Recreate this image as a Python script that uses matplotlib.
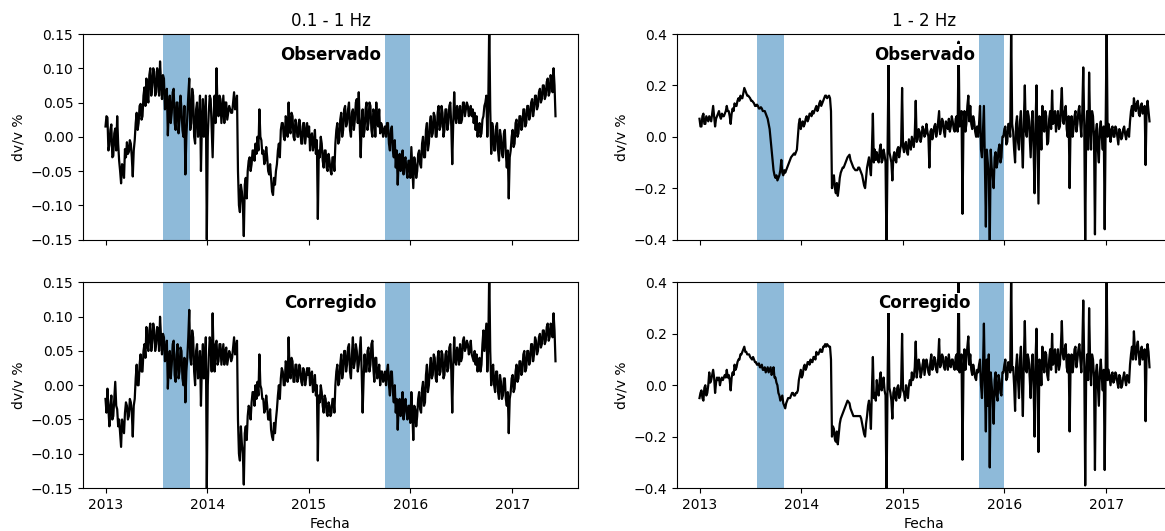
import numpy as np
import matplotlib
matplotlib.use("Agg")
import matplotlib.pyplot as plt
import matplotlib.dates as mdates

# dv/v samples (%): "_a" at the start of each week from 2013-01-01,
# "_b" half a week later
start = np.datetime64("2013-01-01T00")

obs_01_1_a = [
    0.015, 0.028, -0.012, 0.018, -0.028, 0.012, 0.03, -0.035, -0.068, -0.045, -0.018, -0.008, -0.022,
    -0.01, -0.058, -0.005, 0.035, 0.02, 0.048, 0.03, 0.072, 0.085, 0.05, 0.1, 0.075, 0.095,
    0.065, 0.09, 0.11, 0.055, 0.085, 0.045, 0.002, 0.06, 0.035, 0.07, 0.01, 0.05, 0.025,
    0.04, 0.0, -0.055, 0.03, 0.085, 0.02, 0.06, -0.01, 0.05, 0.02, -0.05, 0.055, 0.03,
    -0.15, 0.035, 0.055, -0.03, 0.06, 0.1, 0.03, 0.055, 0.04, 0.02, 0.05, 0.035, 0.04,
    0.035, 0.065, 0.045, -0.05, -0.11, -0.08, -0.145, -0.06, -0.05, -0.03, -0.04, -0.02, -0.01,
    0.0, 0.04, -0.005, -0.02, -0.035, -0.03, -0.055, -0.06, -0.085, -0.07, -0.04, -0.01, 0.01,
    0.02, -0.005, 0.025, 0.05, 0.005, 0.03, -0.005, 0.02, 0.0, 0.015, -0.01, 0.02, 0.005,
    0.0, -0.02, 0.005, -0.01, -0.025, -0.12, -0.03, -0.01, -0.045, -0.02, -0.05, -0.035, -0.055,
    -0.03, -0.01, 0.02, -0.005, 0.035, 0.01, 0.045, 0.02, 0.05, 0.0, 0.04, 0.025, 0.055,
    0.065, -0.03, 0.04, 0.01, 0.05, 0.02, 0.045, 0.0, 0.035, 0.05, 0.015, 0.005, 0.015,
    0.01, 0.0, 0.02, -0.02, 0.015, -0.03, -0.045, -0.07, -0.025, -0.04, -0.055, -0.03, -0.06,
    -0.035, -0.015, -0.075, -0.04, -0.05, -0.02, -0.045, 0.0, -0.03, 0.02, -0.01, 0.03, 0.005,
    0.03, 0.0, 0.045, 0.015, 0.035, 0.01, 0.04, 0.02, 0.05, -0.04, 0.065, 0.02, 0.035,
    0.045, 0.025, 0.05, 0.04, 0.045, 0.035, 0.03, 0.02, 0.01, 0.0, 0.02, 0.005, 0.03,
    0.05, 0.0, 0.17, -0.025, 0.01, -0.02, 0.02, -0.035, 0.0, -0.03, 0.01, -0.045, -0.09,
    -0.02, 0.01, -0.01, 0.025, 0.005, 0.03, 0.015, 0.04, 0.02, 0.045, 0.03, 0.055, 0.04,
    0.06, 0.045, 0.07, 0.055, 0.075, 0.06, 0.085, 0.065, 0.08, 0.1, 0.03,
]
obs_01_1_b = [
    0.03, -0.02, 0.01, -0.03, 0.005, -0.02, -0.01, -0.05, -0.04, -0.06, -0.03, -0.025, -0.005,
    -0.03, -0.02, 0.02, 0.01, 0.045, 0.025, 0.06, 0.045, 0.06, 0.09, 0.06, 0.1, 0.06,
    0.1, 0.06, 0.08, 0.09, 0.04, 0.07, 0.04, 0.02, 0.065, 0.02, 0.05, 0.005, 0.06,
    0.01, 0.045, 0.0, 0.06, 0.01, 0.07, 0.0, 0.04, 0.0, 0.06, 0.02, 0.0, 0.06,
    0.0, 0.06, 0.01, 0.03, 0.02, 0.04, 0.06, 0.02, 0.06, 0.05, 0.025, 0.045, 0.035,
    0.05, 0.04, 0.06, -0.1, -0.07, -0.1, -0.07, -0.09, -0.035, -0.05, -0.02, -0.035, -0.025,
    -0.02, 0.0, -0.025, -0.04, -0.015, -0.05, -0.04, -0.08, -0.06, -0.05, -0.02, -0.03, 0.02,
    0.0, 0.03, 0.0, 0.01, 0.035, 0.0, 0.025, 0.0, 0.025, -0.01, 0.02, -0.01, 0.02,
    0.015, 0.0, -0.02, 0.01, -0.005, -0.02, 0.0, -0.035, -0.02, -0.045, -0.025, -0.05, -0.03,
    -0.05, 0.01, -0.01, 0.025, 0.0, 0.04, 0.015, 0.04, 0.01, 0.035, 0.01, 0.05, 0.02,
    0.02, 0.02, 0.0, 0.04, 0.01, 0.05, 0.01, 0.04, 0.0, 0.02, 0.04, 0.02, 0.0,
    0.015, 0.02, -0.01, 0.01, -0.02, -0.005, -0.02, -0.035, -0.05, -0.02, -0.035, -0.05, -0.035,
    -0.06, -0.045, -0.03, -0.06, -0.025, -0.04, -0.01, -0.03, 0.01, -0.02, 0.02, 0.0, 0.035,
    0.0, 0.035, 0.01, 0.045, 0.0, 0.04, 0.01, 0.045, 0.015, 0.02, 0.03, 0.045, 0.02,
    0.02, 0.05, 0.03, 0.05, 0.03, 0.045, 0.04, 0.035, 0.03, 0.015, 0.0, 0.025, 0.045,
    0.06, 0.05, 0.04, 0.02, -0.02, 0.015, -0.02, 0.01, -0.025, 0.005, -0.025, -0.02, -0.03,
    0.0, -0.015, 0.02, 0.0, 0.03, 0.01, 0.04, 0.015, 0.045, 0.025, 0.05, 0.03, 0.06,
    0.04, 0.065, 0.05, 0.075, 0.055, 0.08, 0.06, 0.09, 0.065, 0.075,
]

cor_01_1_a = [
    -0.02, -0.005, -0.06, -0.015, -0.045, 0.005, -0.035, -0.05, -0.09, -0.06, -0.04, -0.03, -0.045,
    -0.025, -0.075, -0.02, 0.03, 0.0, 0.045, 0.02, 0.06, 0.085, 0.05, 0.09, 0.065, 0.08,
    0.06, 0.08, 0.1, 0.045, 0.07, 0.04, -0.005, 0.05, 0.03, 0.065, 0.005, 0.06, 0.02,
    0.05, 0.0, -0.025, 0.04, 0.11, 0.03, 0.07, 0.0, 0.06, 0.02, -0.03, 0.06, 0.03,
    -0.15, 0.04, 0.06, 0.105, 0.02, 0.065, 0.035, 0.06, 0.045, 0.03, 0.055, 0.04, 0.045,
    0.04, 0.07, 0.05, -0.05, -0.11, -0.085, -0.145, -0.06, -0.045, -0.035, -0.025, -0.01, 0.0,
    0.005, 0.045, -0.005, -0.02, -0.035, -0.03, -0.05, -0.065, -0.08, -0.07, -0.035, 0.0, 0.01,
    0.02, 0.0, 0.03, 0.07, 0.01, 0.035, 0.005, 0.03, 0.01, 0.025, 0.0, 0.02, 0.01,
    0.015, 0.0, 0.02, -0.005, -0.015, -0.11, -0.025, -0.01, -0.04, -0.02, -0.045, -0.03, -0.04,
    -0.02, 0.0, 0.03, 0.005, 0.045, 0.02, 0.05, 0.03, 0.06, 0.01, 0.07, 0.035, 0.05,
    0.03, 0.07, -0.04, 0.045, 0.02, 0.055, 0.03, 0.065, 0.005, 0.04, 0.015, 0.0, 0.02,
    0.01, 0.0, 0.03, -0.015, 0.02, -0.025, -0.04, -0.065, -0.02, -0.035, -0.05, -0.02, -0.05,
    -0.03, -0.01, -0.08, -0.035, -0.045, -0.01, -0.04, 0.005, -0.025, 0.03, 0.0, 0.04, 0.015,
    0.04, 0.005, 0.05, 0.02, 0.045, 0.015, 0.05, 0.025, 0.06, -0.04, 0.07, 0.03, 0.045,
    0.06, 0.04, 0.07, 0.055, 0.06, 0.05, 0.045, 0.035, 0.03, 0.02, 0.04, 0.03, 0.08,
    0.07, 0.02, 0.17, 0.0, 0.03, -0.01, 0.02, -0.02, 0.005, -0.015, 0.01, -0.03, -0.07,
    -0.01, 0.015, -0.005, 0.03, 0.01, 0.035, 0.02, 0.05, 0.025, 0.05, 0.035, 0.06, 0.045,
    0.065, 0.05, 0.075, 0.06, 0.08, 0.065, 0.09, 0.07, 0.085, 0.105, 0.035,
]
cor_01_1_b = [
    -0.04, -0.035, -0.03, -0.05, -0.02, -0.03, -0.06, -0.07, -0.05, -0.07, -0.025, -0.05, -0.02,
    -0.04, -0.03, 0.01, 0.0, 0.03, 0.02, 0.05, 0.04, 0.06, 0.08, 0.05, 0.09, 0.05,
    0.085, 0.05, 0.07, 0.075, 0.035, 0.065, 0.03, 0.01, 0.06, 0.015, 0.045, 0.01, 0.055,
    0.01, 0.04, 0.02, 0.07, 0.04, 0.08, 0.02, 0.05, 0.01, 0.05, 0.03, 0.01, 0.07,
    0.0, 0.07, 0.02, 0.04, 0.06, 0.03, 0.06, 0.03, 0.06, 0.05, 0.03, 0.05, 0.035,
    0.055, 0.045, 0.065, -0.1, -0.06, -0.1, -0.07, -0.08, -0.03, -0.05, -0.01, -0.03, -0.02,
    -0.015, 0.0, -0.02, -0.04, -0.015, -0.05, -0.035, -0.075, -0.055, -0.05, -0.015, -0.02, 0.025,
    0.0, 0.035, 0.005, 0.02, 0.04, 0.005, 0.03, 0.005, 0.03, 0.005, 0.025, 0.0, 0.025,
    0.025, 0.015, -0.01, 0.015, 0.0, -0.015, 0.0, -0.03, -0.015, -0.04, -0.025, -0.045, -0.02,
    -0.04, 0.02, 0.0, 0.03, 0.01, 0.05, 0.02, 0.055, 0.02, 0.045, 0.025, 0.06, 0.02,
    0.05, 0.02, 0.01, 0.02, 0.05, 0.02, 0.06, 0.025, 0.04, 0.01, 0.03, 0.02, 0.005,
    0.02, 0.02, 0.0, 0.02, -0.01, 0.0, -0.02, -0.03, -0.045, -0.01, -0.03, -0.04, -0.03,
    -0.055, -0.04, -0.03, -0.06, -0.02, -0.035, -0.005, -0.03, 0.015, -0.01, 0.025, 0.01, 0.045,
    0.01, 0.04, 0.015, 0.05, 0.01, 0.045, 0.02, 0.055, 0.02, 0.03, 0.035, 0.055, 0.03,
    0.035, 0.065, 0.05, 0.065, 0.045, 0.065, 0.04, 0.05, 0.045, 0.035, 0.02, 0.06, 0.05,
    0.09, 0.06, 0.05, 0.025, 0.0, 0.02, -0.01, 0.015, -0.02, 0.01, -0.02, -0.01, -0.02,
    0.01, -0.01, 0.02, 0.005, 0.035, 0.015, 0.045, 0.02, 0.05, 0.03, 0.06, 0.035, 0.07,
    0.045, 0.07, 0.055, 0.08, 0.06, 0.085, 0.065, 0.09, 0.07, 0.08,
]

obs_1_2_a = [
    0.07, 0.04, 0.09, 0.05, 0.07, 0.08, 0.06, 0.12, 0.04, 0.08, 0.1, 0.07, 0.08,
    0.09, 0.12, 0.1, 0.05, 0.11, 0.13, 0.12, 0.15, 0.16, 0.15, 0.19, 0.17, 0.16,
    0.15, 0.14, 0.13, 0.12, 0.12, 0.11, 0.11, 0.1, 0.09, 0.07, 0.03, -0.05, -0.13,
    -0.16, -0.17, -0.15, -0.09, -0.15, -0.14, -0.12, -0.1, -0.08, -0.07, -0.07, -0.05, 0.05,
    0.03, 0.06, 0.05, 0.08, 0.07, 0.09, 0.1, 0.1, 0.12, 0.11, 0.14, 0.13, 0.15,
    0.16, 0.155, 0.15, -0.2, -0.15, -0.22, -0.23, -0.16, -0.13, -0.12, -0.1, -0.08, -0.07,
    -0.1, -0.12, -0.13, -0.13, -0.12, -0.14, -0.17, -0.2, -0.12, -0.08, -0.15, 0.09, -0.05,
    -0.06, -0.1, -0.03, -0.09, -0.07, -0.45, 0.28, -0.08, -0.17, -0.06, -0.1, -0.04, -0.05,
    0.19, -0.06, -0.02, -0.07, -0.03, 0.0, -0.04, 0.14, -0.01, 0.02, 0.0, 0.03, 0.01,
    0.02, -0.12, 0.03, 0.01, 0.05, 0.02, 0.1, 0.03, 0.06, 0.0, 0.05, 0.07, 0.04,
    0.06, 0.02, 0.08, 0.37, 0.05, -0.3, 0.1, 0.05, 0.16, 0.12, 0.03, 0.06, 0.0,
    0.0, 0.12, -0.08, 0.12, -0.35, -0.1, -0.42, -0.12, -0.2, -0.06, -0.1, -0.03, -0.08,
    0.0, 0.04, -0.02, 0.05, 0.45, 0.02, -0.1, 0.08, -0.05, 0.1, -0.12, 0.2, 0.0,
    0.08, -0.08, 0.1, -0.22, 0.2, -0.26, 0.05, 0.12, 0.02, 0.08, -0.02, 0.1, 0.18,
    0.06, 0.02, 0.1, 0.04, 0.19, 0.05, 0.12, 0.0, -0.2, 0.08, 0.03, 0.1, 0.05,
    0.12, 0.0, 0.27, -0.42, 0.1, 0.25, -0.05, 0.08, -0.38, 0.05, -0.1, 0.06, -0.05,
    -0.36, 0.45, 0.05, -0.02, 0.04, 0.0, 0.03, -0.03, 0.02, 0.0, 0.04, -0.01, 0.03,
    0.06, 0.12, 0.15, 0.1, 0.14, 0.08, 0.13, 0.1, -0.11, 0.14, 0.06,
]
obs_1_2_b = [
    0.04, 0.08, 0.05, 0.08, 0.06, 0.07, 0.09, 0.08, 0.07, 0.09, 0.08, 0.09, 0.08,
    0.1, 0.1, 0.08, 0.09, 0.1, 0.12, 0.14, 0.14, 0.15, 0.17, 0.18, 0.16, 0.155,
    0.14, 0.135, 0.12, 0.125, 0.11, 0.115, 0.1, 0.1, 0.08, 0.05, -0.01, -0.09, -0.15,
    -0.15, -0.16, -0.13, -0.14, -0.13, -0.13, -0.11, -0.09, -0.075, -0.065, -0.06, 0.0, 0.07,
    0.05, 0.04, 0.07, 0.06, 0.09, 0.08, 0.09, 0.11, 0.1, 0.13, 0.12, 0.14, 0.16,
    0.15, 0.16, 0.1, -0.17, -0.2, -0.18, -0.2, -0.14, -0.12, -0.11, -0.09, -0.075, -0.09,
    -0.11, -0.125, -0.13, -0.12, -0.13, -0.15, -0.19, -0.16, -0.1, -0.12, -0.05, -0.1, -0.09,
    -0.09, -0.05, -0.1, -0.05, -0.1, -0.08, -0.06, -0.1, -0.08, -0.09, -0.05, -0.08, -0.03,
    -0.04, -0.03, -0.06, -0.01, -0.05, -0.02, 0.01, -0.02, 0.03, -0.02, 0.04, 0.0, 0.05,
    0.0, 0.02, -0.01, 0.04, 0.0, 0.06, 0.01, 0.07, 0.02, 0.06, 0.03, 0.02, 0.08,
    0.03, 0.07, 0.02, 0.04, 0.1, 0.04, 0.02, 0.12, 0.06, 0.05, 0.08, 0.02, 0.04,
    0.05, -0.05, 0.02, -0.1, -0.05, -0.15, -0.05, -0.15, -0.08, -0.12, -0.05, -0.1, 0.0,
    0.03, -0.03, 0.05, 0.0, 0.05, -0.05, 0.05, -0.02, 0.06, -0.03, 0.06, 0.02, 0.1,
    0.0, 0.06, -0.05, 0.05, -0.03, 0.08, -0.05, 0.03, 0.1, -0.03, 0.07, 0.03, 0.05,
    0.1, 0.07, 0.03, 0.12, 0.06, 0.1, 0.03, 0.08, 0.05, 0.0, 0.08, 0.02, 0.1,
    0.05, 0.1, 0.05, 0.02, -0.05, 0.05, 0.1, 0.0, 0.02, -0.05, 0.03, 0.0, 0.04,
    0.05, 0.0, 0.02, 0.03, 0.0, 0.04, 0.0, 0.03, -0.01, 0.03, 0.01, 0.02, 0.0,
    0.1, 0.08, 0.12, 0.13, 0.09, 0.12, 0.09, 0.12, 0.1, 0.1,
]

cor_1_2_a = [
    -0.05, -0.02, -0.06, 0.0, -0.03, 0.05, 0.02, 0.06, -0.03, 0.03, 0.03, 0.02, 0.02,
    0.04, 0.06, 0.04, -0.02, 0.05, 0.08, 0.07, 0.1, 0.12, 0.13, 0.15, 0.13, 0.12,
    0.11, 0.1, 0.1, 0.09, 0.08, 0.07, 0.08, 0.06, 0.05, 0.07, 0.06, 0.04, 0.07,
    0.03, 0.0, -0.04, -0.05, -0.07, -0.09, -0.06, -0.05, -0.04, -0.03, -0.04, -0.03, 0.02,
    0.06, 0.04, 0.08, 0.07, 0.09, 0.1, 0.09, 0.11, 0.13, 0.12, 0.14, 0.13, 0.15,
    0.15, 0.155, 0.15, -0.2, -0.17, -0.22, -0.23, -0.15, -0.12, -0.1, -0.08, -0.06, -0.07,
    -0.1, -0.12, -0.12, -0.12, -0.12, -0.13, -0.17, -0.2, -0.12, -0.06, -0.17, 0.11, -0.03,
    0.02, -0.04, 0.05, 0.0, -0.02, -0.45, 0.29, -0.03, -0.13, -0.01, -0.06, 0.0, -0.04,
    0.2, -0.03, 0.0, -0.05, 0.02, 0.05, 0.03, 0.17, 0.06, 0.08, 0.05, 0.1, 0.07,
    0.08, 0.04, 0.12, 0.07, 0.1, 0.05, 0.18, 0.08, 0.11, 0.06, 0.1, 0.12, 0.07,
    0.1, 0.06, 0.12, 0.45, 0.08, -0.29, 0.14, 0.1, 0.19, 0.12, 0.04, 0.06, 0.02,
    0.05, 0.1, -0.05, 0.24, -0.18, -0.08, -0.32, 0.0, -0.15, 0.05, -0.06, 0.02, -0.04,
    0.05, 0.1, 0.03, 0.08, 0.45, 0.07, -0.1, 0.12, -0.05, 0.15, -0.12, 0.25, 0.05,
    0.1, -0.05, 0.12, -0.2, 0.22, -0.26, 0.08, 0.15, 0.05, 0.12, 0.02, 0.14, 0.2,
    0.1, 0.05, 0.14, 0.08, 0.25, 0.1, 0.16, 0.05, -0.18, 0.12, 0.08, 0.15, 0.1,
    0.16, 0.05, 0.33, -0.39, 0.12, 0.3, 0.0, 0.1, -0.33, 0.08, -0.08, 0.1, -0.02,
    -0.33, 0.45, 0.06, 0.0, 0.05, 0.02, 0.04, -0.01, 0.03, 0.0, 0.05, 0.0, 0.03,
    0.08, 0.15, 0.21, 0.1, 0.17, 0.08, 0.15, 0.12, -0.14, 0.16, 0.07,
]
cor_1_2_b = [
    -0.03, -0.05, -0.01, -0.04, 0.0, 0.01, 0.04, 0.03, 0.01, 0.02, 0.0, 0.03, 0.03,
    0.03, 0.03, 0.02, 0.03, 0.04, 0.06, 0.09, 0.1, 0.12, 0.14, 0.13, 0.12, 0.12,
    0.105, 0.11, 0.09, 0.08, 0.085, 0.07, 0.06, 0.07, 0.06, 0.05, 0.07, 0.05, 0.03,
    0.01, -0.03, -0.06, -0.04, -0.08, -0.07, -0.05, -0.05, -0.03, -0.04, -0.03, -0.02, 0.04,
    0.03, 0.07, 0.06, 0.09, 0.08, 0.09, 0.11, 0.1, 0.12, 0.13, 0.13, 0.15, 0.16,
    0.16, 0.15, 0.1, -0.16, -0.21, -0.18, -0.19, -0.13, -0.11, -0.09, -0.07, -0.065, -0.09,
    -0.11, -0.12, -0.12, -0.12, -0.12, -0.15, -0.19, -0.15, -0.08, -0.1, -0.02, -0.05, -0.06,
    -0.03, 0.02, -0.02, 0.03, -0.04, -0.02, -0.01, -0.06, -0.03, -0.05, -0.01, -0.05, 0.0,
    -0.02, -0.06, -0.02, 0.0, 0.0, 0.02, 0.07, 0.03, 0.1, 0.03, 0.08, 0.04, 0.1,
    0.05, 0.09, 0.06, 0.11, 0.06, 0.1, 0.07, 0.12, 0.07, 0.11, 0.06, 0.08, 0.1,
    0.07, 0.11, 0.06, 0.05, 0.12, 0.05, 0.06, 0.15, 0.08, 0.06, 0.08, 0.03, 0.06,
    0.08, 0.0, 0.06, 0.0, 0.1, 0.12, 0.05, -0.05, 0.02, -0.04, 0.04, -0.03, 0.05,
    0.08, 0.02, 0.09, 0.05, 0.06, 0.0, 0.07, 0.02, 0.1, 0.0, 0.1, 0.06, 0.12,
    0.03, 0.08, 0.0, 0.1, 0.0, 0.1, 0.0, 0.08, 0.13, 0.04, 0.1, 0.06, 0.08,
    0.14, 0.1, 0.06, 0.15, 0.12, 0.14, 0.07, 0.12, 0.08, 0.05, 0.14, 0.07, 0.14,
    0.1, 0.14, 0.08, 0.05, 0.02, 0.1, 0.12, 0.03, 0.05, 0.0, 0.05, 0.03, 0.06,
    0.06, 0.02, 0.03, 0.04, 0.01, 0.05, 0.01, 0.04, -0.01, 0.03, 0.02, 0.04, 0.01,
    0.12, 0.1, 0.14, 0.15, 0.12, 0.13, 0.1, 0.14, 0.12, 0.13,
]

# periods of interest (shaded)
periodos = [("2013-07-25", "2013-10-31"), ("2015-10-01", "2016-01-01")]
bandas = ["0.1 - 1 Hz", "1 - 2 Hz"]
limites = [0.15, 0.4]
etiquetas = ["Observado", "Corregido"]


def serie(a, b):
    # merge week-start and mid-week samples into one series
    assert len(b) == len(a) - 1
    v = np.empty(len(a) + len(b))
    v[0::2] = a
    v[1::2] = b
    return v


series = [[serie(obs_01_1_a, obs_01_1_b), serie(obs_1_2_a, obs_1_2_b)],
          [serie(cor_01_1_a, cor_01_1_b), serie(cor_1_2_a, cor_1_2_b)]]
fechas = start + np.arange(len(series[0][0])) * np.timedelta64(84, "h")

fig, axs = plt.subplots(2, 2, sharex=True, figsize=(11.65, 5.31), dpi=100)
fig.subplots_adjust(left=83 / 1165, right=1172 / 1165, top=1 - 34 / 531,
                    bottom=1 - 488 / 531, hspace=0.209, wspace=0.2)

for i in range(2):
    for j in range(2):
        ax = axs[i, j]
        ax.plot(fechas, series[i][j], color="k", lw=1.6)
        for a, b in periodos:
            ax.axvspan(np.datetime64(a), np.datetime64(b), color="tab:blue",
                       alpha=0.5, lw=0)
        ax.set_ylim(-limites[j], limites[j])
        ax.set_ylabel("dv/v %")
        ax.text(0.5, 0.9, etiquetas[i], transform=ax.transAxes, ha="center",
                va="center", fontweight="bold", fontsize=12,
                bbox=dict(facecolor="white", edgecolor="none", pad=1))
        if i == 0:
            ax.set_title(bandas[j])
        else:
            ax.set_xlabel("Fecha")

for ax in axs[:, 0]:
    ax.set_yticks(np.arange(-0.15, 0.151, 0.05))
for ax in axs[:, 1]:
    ax.set_yticks([-0.4, -0.2, 0.0, 0.2, 0.4])
axs[1, 0].xaxis.set_major_locator(mdates.YearLocator())
axs[1, 0].xaxis.set_major_formatter(mdates.DateFormatter("%Y"))

fig.savefig("out.png", dpi=100)
